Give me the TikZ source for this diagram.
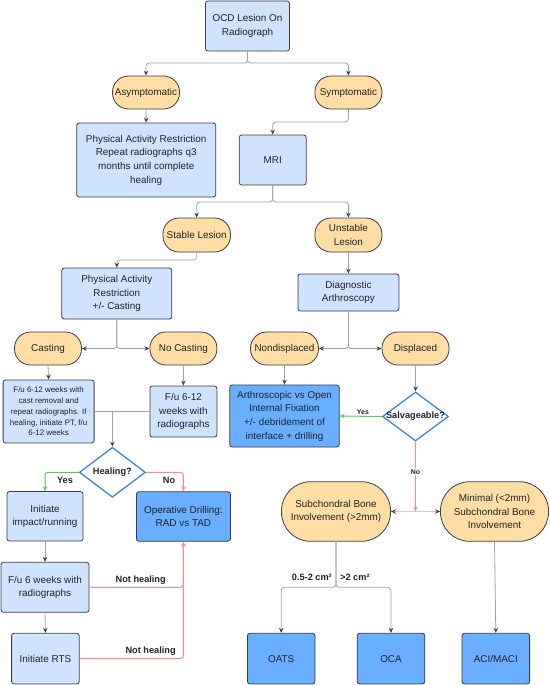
\documentclass[tikz,border=0pt]{standalone}
\usepackage{fontspec}
\setmainfont{Liberation Sans}
\usetikzlibrary{arrows.meta,shapes.geometric}
\definecolor{lblue}{HTML}{CFE3FF}
\definecolor{dblue}{HTML}{6AAEFF}
\definecolor{orng}{HTML}{FFDDA4}
\definecolor{edge}{HTML}{3A3D44}
\definecolor{txt}{HTML}{1F2328}
\definecolor{gline}{HTML}{9CA1AA}
\definecolor{lgline}{HTML}{C9CDD3}
\definecolor{arr}{HTML}{3F4450}
\definecolor{redl}{HTML}{FA8A8A}
\definecolor{greenl}{HTML}{5BC85B}
\definecolor{diab}{HTML}{2F7FE8}
\newcommand{\mainf}{\fontsize{9.9}{13.7}\selectfont}
\newcommand{\smallf}{\fontsize{7.9}{10.7}\selectfont}
\newcommand{\lblf}{\fontsize{9.2}{11}\selectfont\bfseries}
\newcommand{\tinyb}{\fontsize{6.9}{8}\selectfont\bfseries}
\begin{document}
\begin{tikzpicture}[x=1pt,y=-1pt,
  sz/.style 2 args={minimum width=#1pt, minimum height=#2pt},
  base/.style={draw=edge, line width=0.8pt, text=txt, align=center, inner sep=1pt, font=\mainf},
  lbox/.style={base, fill=lblue, rounded corners=2.5pt},
  dbox/.style={base, fill=dblue, rounded corners=2.5pt},
  oval/.style={base, fill=orng, rounded corners=16pt},
  bigoval/.style={base, fill=orng, rounded corners=29pt},
  dia/.style={diamond, draw=diab, line width=1.2pt, fill=white, inner sep=0pt},
  tipg/.style={-{Stealth[length=5pt,width=4.5pt,color=arr]}},
  conn/.style={draw=gline, line width=0.8pt, rounded corners=3pt, tipg},
  plain/.style={draw=gline, line width=0.8pt, rounded corners=3pt},
  redc/.style={draw=redl, line width=1pt, rounded corners=3pt, -{Stealth[length=5pt,width=4.5pt]}},
  greenc/.style={draw=greenl, line width=1pt, rounded corners=3pt, -{Stealth[length=5pt,width=4.5pt]}},
  lbl/.style={font=\lblf, text=txt, inner sep=1pt},
  tlbl/.style={font=\tinyb, text=txt, inner sep=1pt}
]
\useasboundingbox (0,0) rectangle (549,685);
\fill[white] (0,0) rectangle (549,685);

% nodes
\node[lbox, sz={84}{50}] (ocd) at (247.5,26) {OCD Lesion On\\Radiograph};
\node[oval, sz={67}{33}] (asym) at (146,92.5) {Asymptomatic};
\node[oval, sz={67}{33}] (sym) at (348.4,92.5) {Symptomatic};
\node[lbox, sz={139}{74}] (par1) at (146.2,160) {Physical Activity Restriction\\Repeat radiographs q3\\months until complete\\healing};
\node[lbox, sz={67}{50}] (mri) at (272.7,160) {MRI};
\node[oval, sz={67.5}{34}] (stable) at (196.7,235) {Stable Lesion};
\node[oval, sz={67}{34}] (unstable) at (348.4,235) {Unstable\\Lesion};
\node[lbox, sz={110}{51}] (par2) at (116.8,293.5) {Physical Activity\\Restriction\\+/- Casting};
\node[lbox, sz={101}{37}] (da) at (348.4,292.5) {Diagnostic\\Arthroscopy};
\node[oval, sz={67}{33}] (casting) at (48,348.5) {Casting};
\node[oval, sz={67}{33}] (nocast) at (183.4,348.5) {No Casting};
\node[oval, sz={68}{33}] (nondisp) at (284.5,348.5) {Nondisplaced};
\node[oval, sz={67}{33}] (disp) at (415.5,348.5) {Displaced};
\node[lbox, sz={91}{63}, font=\smallf] (castfu) at (48.6,411.5) {F/u 6-12 weeks with\\cast removal and\\repeat radiographs. If\\healing, initiate PT, f/u\\6-12 weeks};
\node[lbox, sz={67}{51}] (nocastfu) at (183.4,411.5) {F/u 6-12\\weeks with\\radiographs};
\node[dbox, sz={109.5}{62}] (arth) at (284.5,416) {Arthroscopic vs Open\\Internal Fixation\\+/- debridement of\\interface + drilling};
\node[dia, sz={66}{49}, label={[font=\lblf, text=txt]center:Salvageable?}] (salv) at (415.5,416.5) {};
\node[dia, sz={66}{50}, label={[font=\lblf, text=txt]center:Healing?}] (heal) at (112.4,472.3) {};
\node[lbox, sz={76}{49.5}] (init) at (45,516.3) {Initiate\\impact/running};
\node[dbox, sz={94}{49.6}] (opdrill) at (183.4,516.5) {Operative Drilling:\\RAD vs TAD};
\node[lbox, sz={88}{50}] (fu6) at (45,587.3) {F/u 6 weeks with\\radiographs};
\node[lbox, sz={67.6}{50.7}] (rts) at (45.4,658.6) {Initiate RTS};
\node[bigoval, sz={109}{59.6}] (subch) at (336,511.5) {Subchondral Bone\\Involvement (>2mm)};
\node[bigoval, sz={108}{59.6}] (minimal) at (494.5,511.5) {Minimal (<2mm)\\Subchondral Bone\\Involvement};
\node[dbox, sz={67.6}{50.7}] (oats) at (281.2,658.6) {OATS};
\node[dbox, sz={67.6}{50.7}] (oca) at (391,658.6) {OCA};
\node[dbox, sz={67.6}{50.7}] (aci) at (495.8,658.6) {ACI/MACI};
\coordinate (j) at (415.5,511.5);

% connectors
\draw[conn] (ocd.south) -- (ocd.south |- 0,63) -| (asym.north);
\draw[conn] (ocd.south) -- (ocd.south |- 0,63) -| (sym.north);
\draw[conn] (asym.south) -- (par1.north);
\draw[conn] (sym.south) -- (sym.south |- 0,122) -| (mri.north);
\draw[conn] (mri.south) -- (mri.south |- 0,202) -| (stable.north);
\draw[conn] (mri.south) -- (mri.south |- 0,202) -| (unstable.north);
\draw[conn] (stable.south) -- (stable.south |- 0,260) -| (par2.north);
\draw[conn] (unstable.south) -- (da.north);
\draw[conn] (par2.south) |- (casting.east);
\draw[conn] (par2.south) |- (nocast.west);
\draw[conn] (da.south) |- (nondisp.east);
\draw[conn] (da.south) |- (disp.west);
\draw[conn] (casting.south) -- (castfu.north);
\draw[conn] (nocast.south) -- (nocastfu.north);
\draw[plain] (castfu.east) -- (nocastfu.west);
\draw[conn] (heal.north |- castfu.east) -- (heal.north);
\draw[conn] (nondisp.south) -- (arth.north);
\draw[conn] (disp.south) -- (salv.north);
\draw[greenc] (salv.west) -- node[tlbl, above, pos=0.45] {Yes} (arth.east);
\draw[redc] (salv.south) -- node[tlbl, fill=white, pos=0.43] {No} (j);
\draw[draw=lgline, line width=0.9pt, tipg] (j) -- (subch.east);
\draw[draw=lgline, line width=0.9pt, tipg] (j) -- (minimal.west);
\draw[greenc] (heal.west) -| (init.north);
\node[lbl] (yes2) at (65,480.5) {Yes};
\draw[redc] (heal.east) -| (opdrill.north);
\node[lbl] (no2) at (169,480.5) {No};
\draw[conn] (init.south) -- (fu6.north);
\draw[conn] (fu6.south) -- (rts.north);
\draw[redc] (fu6.east) -| (opdrill.south);
\node[lbl] (nh1) at (140.7,580.5) {Not healing};
\draw[redc] (rts.east) -| (opdrill.south);
\node[lbl] (nh2) at (150.6,651.3) {Not healing};
\draw[conn] (subch.south) -- (subch.south |- 0,587.3) -| (oats.north);
\draw[conn] (subch.south) -- (subch.south |- 0,587.3) -| (oca.north);
\node[lbl, anchor=east] (l1) at (333,577) {0.5-2 cm²};
\node[lbl, anchor=west] (l2) at (339,577) {>2 cm²};
\draw[conn] (minimal.south) -- (aci.north);
\end{tikzpicture}
\end{document}
